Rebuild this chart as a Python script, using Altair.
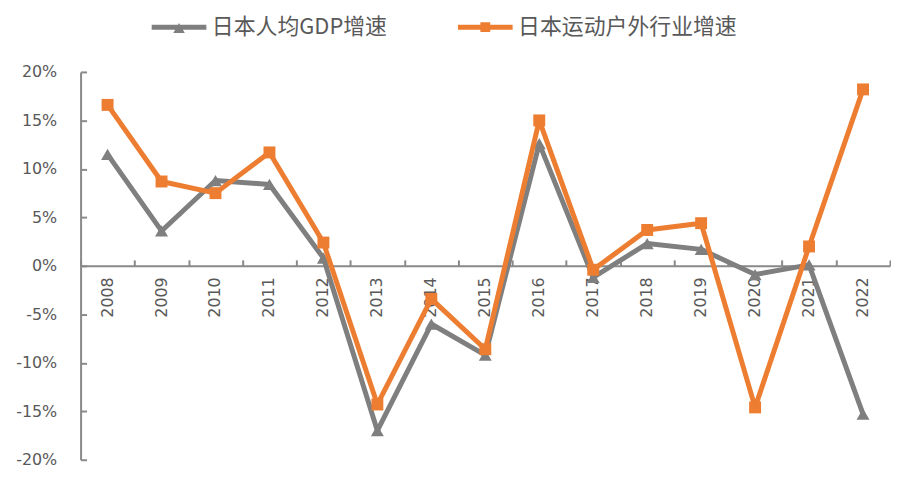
import altair as alt
import pandas as pd

# ---- data ----
years = [str(y) for y in range(2008, 2023)]
gdp_growth = [11.5, 3.6, 8.8, 8.4, 0.8, -17.0, -6.0, -9.2, 12.6, -1.2, 2.3, 1.7, -0.9, 0.1, -15.3]
outdoor_growth = [16.6, 8.7, 7.5, 11.7, 2.4, -14.3, -3.4, -8.6, 15.0, -0.4, 3.7, 4.4, -14.6, 2.0, 18.2]
series_names = ["日本人均GDP增速", "日本运动户外行业增速"]
series_colors = ["#7F7F7F", "#ED7D31"]
y_ticks = [-20, -15, -10, -5, 0, 5, 10, 15, 20]

# ---- layout / style ----
W, H = 814, 390
FONT = "DejaVu Sans"
CJK = "Noto Sans CJK SC"
TXT = "#595959"
AXC = "#898989"
GRAY, ORANGE = series_colors

# legend symbols: a line with a marker in its middle
path_gdp = "M-2,-0.18L2,-0.18L2,0.18L-2,0.18ZM0,-0.3L0.42,0.42L-0.42,0.42Z"
path_out = "M-2,-0.18L2,-0.18L2,0.18L-2,0.18ZM-0.36,-0.36L0.36,-0.36L0.36,0.36L-0.36,0.36Z"

df = pd.DataFrame({"year": years, "gdp": gdp_growth, "outdoor": outdoor_growth})
legend_df = pd.DataFrame({"series": series_names})

xscale = alt.Scale(type="band", paddingInner=0, paddingOuter=0)
yscale = alt.Scale(domain=[-20, 20], nice=False, zero=False)

x_main = alt.X(
    "year:N", sort=years, scale=xscale, bandPosition=0.5, title=None,
    axis=alt.Axis(orient="bottom", offset=-H / 2, ticks=False, tickSize=0,
                  labelAngle=270, labelPadding=11, labelFont=FONT, labelFontSize=16,
                  labelColor=TXT, domainColor=AXC, domainWidth=2, grid=False,
                  labelOverlap=False),
)
x_tick = alt.X(
    "year:N", sort=years, scale=xscale, bandPosition=0.5, title=None,
    axis=alt.Axis(orient="top", offset=-H / 2, labels=False, domain=False,
                  ticks=True, tickBand="extent", tickSize=6, tickColor=AXC,
                  tickWidth=2, grid=False),
)
x_none = alt.X("year:N", sort=years, scale=xscale, bandPosition=0.5, axis=None)

y_main = alt.Y(
    "gdp:Q", scale=yscale, title=None,
    axis=alt.Axis(orient="left", values=y_ticks, ticks=False, tickSize=0,
                  labelPadding=24, labelExpr="datum.value + '%'", labelFont=FONT,
                  labelFontSize=16, labelColor=TXT, domainColor=AXC, domainWidth=2,
                  grid=False, minExtent=62, maxExtent=62),
)
y_tick = alt.Y(
    "gdp:Q", scale=yscale, title=None,
    axis=alt.Axis(orient="right", offset=-W, values=y_ticks, labels=False,
                  domain=False, tickSize=6, tickColor=AXC, tickWidth=2, grid=False),
)
y_out = alt.Y("outdoor:Q", scale=yscale, axis=None)

gdp_line = alt.Chart(df).mark_line(color=GRAY, strokeWidth=5, strokeJoin="round").encode(x=x_main, y=y_main)
gdp_pts = alt.Chart(df).mark_point(shape="triangle-up", filled=True, size=170, color=GRAY, opacity=1).encode(x=x_tick, y=y_tick)
out_line = alt.Chart(df).mark_line(color=ORANGE, strokeWidth=5, strokeJoin="round").encode(x=x_none, y=y_out)
out_pts = alt.Chart(df).mark_point(shape="square", filled=True, size=144, color=ORANGE, opacity=1).encode(x=x_none, y=y_out)

leg = alt.Legend(orient="none", legendX=85, legendY=-59, direction="horizontal",
                 symbolSize=756, labelFont=CJK, labelFontSize=22, labelColor=TXT,
                 labelLimit=600, labelOffset=19, columnPadding=70,
                 symbolStrokeWidth=0, symbolOpacity=1)
legend_layer = alt.Chart(legend_df).mark_point(filled=True, opacity=1).encode(
    color=alt.Color("series:N", title=None,
                    scale=alt.Scale(domain=series_names, range=series_colors), legend=leg),
    shape=alt.Shape("series:N", title=None,
                    scale=alt.Scale(domain=series_names, range=[path_gdp, path_out]), legend=leg),
).transform_filter("false")

chart = (
    alt.layer(gdp_line, gdp_pts, out_line, out_pts, legend_layer)
    .resolve_axis(x="independent", y="independent")
    .properties(width=W, height=H, padding={"left": 7, "top": 4, "right": 0, "bottom": 0})
    .configure_view(stroke=None)
)

chart.save("out.html", embed_options={"renderer": "svg", "actions": False})
